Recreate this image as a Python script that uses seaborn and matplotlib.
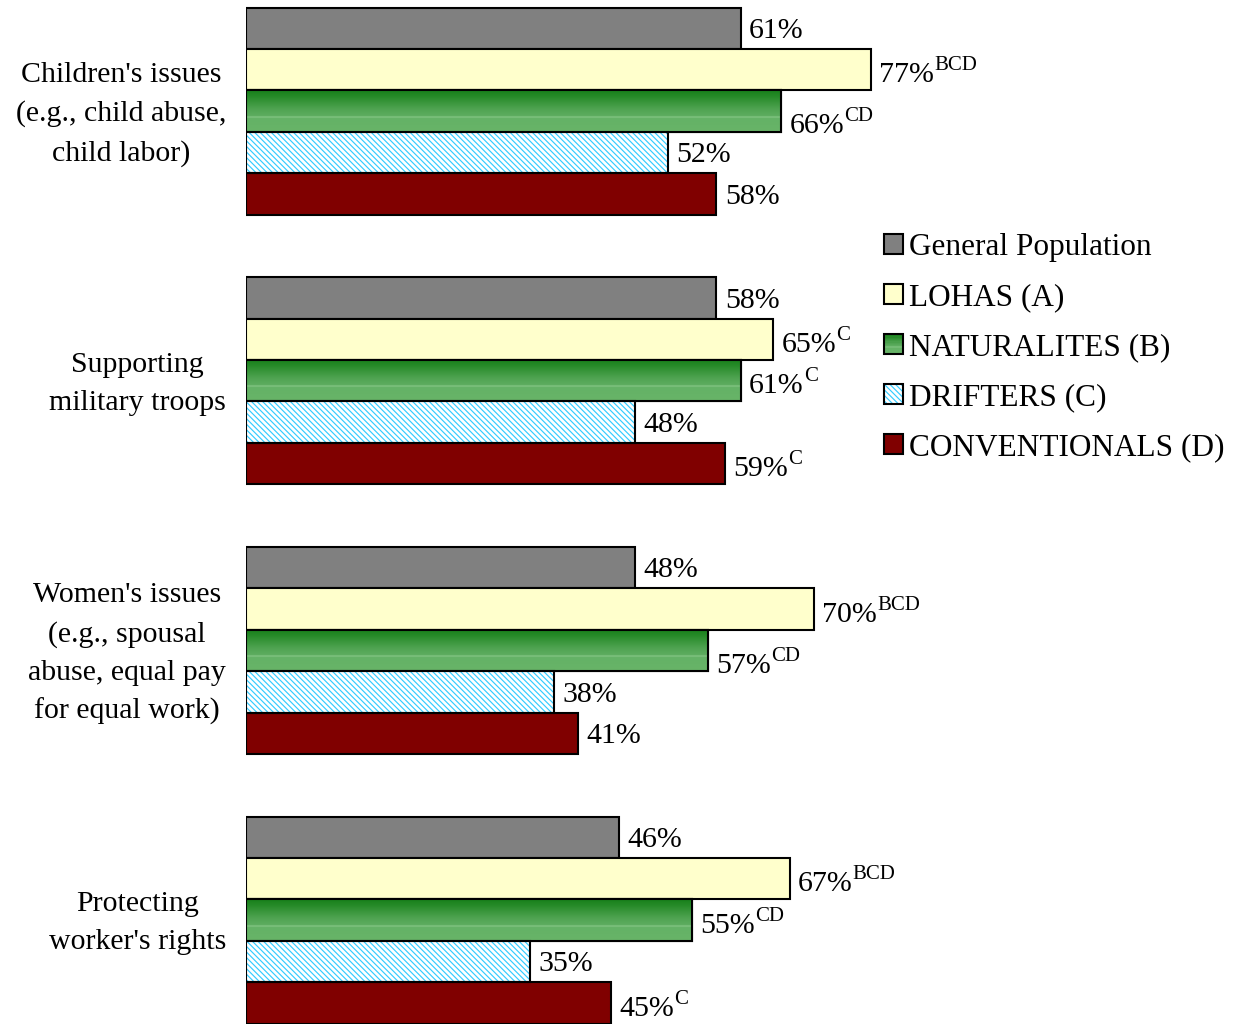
import numpy as np
import pandas as pd
import matplotlib
matplotlib.use("Agg")
import matplotlib.pyplot as plt
import matplotlib.transforms as mtransforms
from matplotlib.patches import Patch, Rectangle
from matplotlib.colors import LinearSegmentedColormap
from matplotlib.legend_handler import HandlerBase
import seaborn as sns

# ---- data -------------------------------------------------------------
categories = [
    "Children's issues\n(e.g., child abuse,\nchild labor)",
    "Supporting\nmilitary troops",
    "Women's issues\n(e.g., spousal\nabuse, equal pay\nfor equal work)",
    "Protecting\nworker's rights",
]
segments = ["General Population", "LOHAS (A)", "NATURALITES (B)",
            "DRIFTERS (C)", "CONVENTIONALS (D)"]

general_population = [61, 58, 48, 46]
lohas = [77, 65, 70, 67]
naturalites = [66, 61, 57, 55]
drifters = [52, 48, 38, 35]
conventionals = [58, 59, 41, 45]

# significance letters shown as superscripts
general_sig = ["", "", "", ""]
lohas_sig = ["BCD", "C", "BCD", "BCD"]
naturalites_sig = ["CD", "C", "CD", "CD"]
drifters_sig = ["", "", "", ""]
conventionals_sig = ["", "C", "", "C"]

values = [general_population, lohas, naturalites, drifters, conventionals]
sigs = [general_sig, lohas_sig, naturalites_sig, drifters_sig, conventionals_sig]

df = pd.DataFrame({
    "issue": [c for _ in segments for c in categories],
    "segment": [s for s in segments for _ in categories],
    "pct": [v for series in values for v in series],
})

# ---- style ------------------------------------------------------------
sns.set_theme(style="white")
plt.rcParams["font.family"] = ["Liberation Serif", "DejaVu Serif"]
plt.rcParams["hatch.linewidth"] = 0.85
plt.rcParams["text.color"] = "black"

FS = 21.5
GRAY = "#808080"
CREAM = "#FFFFCC"
CYAN = "#33CCFF"
MAROON = "#800000"
GREEN_MID = "#3F9B3F"
HATCH = "\\" * 6
palette = [GRAY, CREAM, GREEN_MID, "white", MAROON]

green_cmap = LinearSegmentedColormap.from_list("grn", [
    (0.00, "#17801A"), (0.15, "#268A28"), (0.45, "#4FA351"),
    (0.62, "#5EAD60"), (0.64, "#8CCB8C"), (0.67, "#64B266"),
    (1.00, "#68B468")])

fig = plt.figure(figsize=(12.51, 10.24), dpi=100)
ax = fig.add_axes([245.5 / 1251, 0.0, 1000 / 1251, 1.0])

sns.barplot(data=df, y="issue", x="pct", hue="segment", order=categories,
            hue_order=segments, palette=palette, orient="h", width=0.7675,
            dodge=True, edgecolor="black", linewidth=1.5, saturation=1,
            legend=False, ax=ax)

for s in ax.spines.values():
    s.set_visible(False)
ax.set_xticks([])
ax.set_xlabel("")
ax.set_ylabel("")
ax.tick_params(axis="y", length=0, pad=14)
lift = mtransforms.ScaledTranslation(0, 6 / 100, fig.dpi_scale_trans)
for lab in ax.get_yticklabels():
    lab.set_fontsize(FS)
    lab.set_multialignment("center")
    lab.set_linespacing(1.6)
    lab.set_color("black")
    lab.set_transform(lab.get_transform() + lift)

# green gradient fill, clipped to each NATURALITES bar
grad = np.linspace(0, 1, 256).reshape(-1, 1)
for bar in ax.containers[2]:
    x0, y0 = bar.get_x(), bar.get_y()
    w, h = bar.get_width(), bar.get_height()
    img = ax.imshow(grad, cmap=green_cmap, aspect="auto",
                    extent=(x0, x0 + w, y0 + h, y0), origin="upper",
                    zorder=1.5, interpolation="bilinear")
    img.set_clip_path(bar)
    ax.add_patch(Rectangle((x0, y0), w, h, fill=False, edgecolor="black",
                           linewidth=1.5, zorder=2))

# cyan diagonal hatch for DRIFTERS bars
for bar in ax.containers[3]:
    bar.set_hatch(HATCH)
    bar.set_edgecolor(CYAN)
    bar.set_linewidth(0)
    ax.add_patch(Rectangle((bar.get_x(), bar.get_y()), bar.get_width(),
                           bar.get_height(), fill=False, edgecolor="black",
                           linewidth=1.5, zorder=2))

ax.set_xlim(0, 1000 / 8.12)
ax.set_ylim(3.385, -0.4116)

# value labels with superscript letters
for cont, series, sig in zip(ax.containers, values, sigs):
    for bar, v, s in zip(cont, series, sig):
        yc = bar.get_y() + bar.get_height() / 2
        dy = -4 if s else -2
        if s == "CD" and v in (66, 57):
            dy = -11
        t = ax.annotate(f"{v}%", xy=(v, yc), xytext=(6, dy),
                        textcoords="offset points", ha="left", va="center",
                        fontsize=FS, color="black", zorder=5)
        if s:
            ax.annotate(s, xy=(1, 0.5), xycoords=t, xytext=(0, 0),
                        textcoords="offset points", ha="left", va="bottom",
                        fontsize=15, color="black", zorder=5)


# legend keys drawn like the bars they stand for
class GradientKey(HandlerBase):
    def create_artists(self, legend, orig_handle, xdescent, ydescent,
                       width, height, fontsize, trans):
        n = 16
        arts = []
        for i in range(n):
            y = -ydescent + height * (1 - (i + 1) / n)
            arts.append(Rectangle((-xdescent, y), width, height / n,
                                  facecolor=green_cmap((i + 0.5) / n),
                                  edgecolor="none", transform=trans))
        arts.append(Rectangle((-xdescent, -ydescent), width, height,
                              fill=False, edgecolor="black", linewidth=1.5,
                              transform=trans))
        return arts


class HatchKey(HandlerBase):
    def create_artists(self, legend, orig_handle, xdescent, ydescent,
                       width, height, fontsize, trans):
        base = Rectangle((-xdescent, -ydescent), width, height,
                         facecolor="white", edgecolor=CYAN, hatch=HATCH,
                         linewidth=0, transform=trans)
        edge = Rectangle((-xdescent, -ydescent), width, height, fill=False,
                         edgecolor="black", linewidth=1.5, transform=trans)
        return [base, edge]


handles = [
    Patch(facecolor=GRAY, edgecolor="black", linewidth=1.5),
    Patch(facecolor=CREAM, edgecolor="black", linewidth=1.5),
    Patch(facecolor=GREEN_MID, edgecolor="black", linewidth=1.5),
    Patch(facecolor="white", edgecolor="black", linewidth=1.5),
    Patch(facecolor=MAROON, edgecolor="black", linewidth=1.5),
]
leg = fig.legend(handles, segments, loc="upper left",
                 bbox_to_anchor=(884 / 1251, 1 - 233 / 1024), frameon=False,
                 fontsize=22.5, handlelength=0.6, handleheight=0.6,
                 handletextpad=0.2, labelspacing=0.67, borderpad=0,
                 borderaxespad=0,
                 handler_map={handles[2]: GradientKey(),
                              handles[3]: HatchKey()})
for txt in leg.get_texts():
    txt.set_color("black")

fig.savefig("out.png", dpi=100)
